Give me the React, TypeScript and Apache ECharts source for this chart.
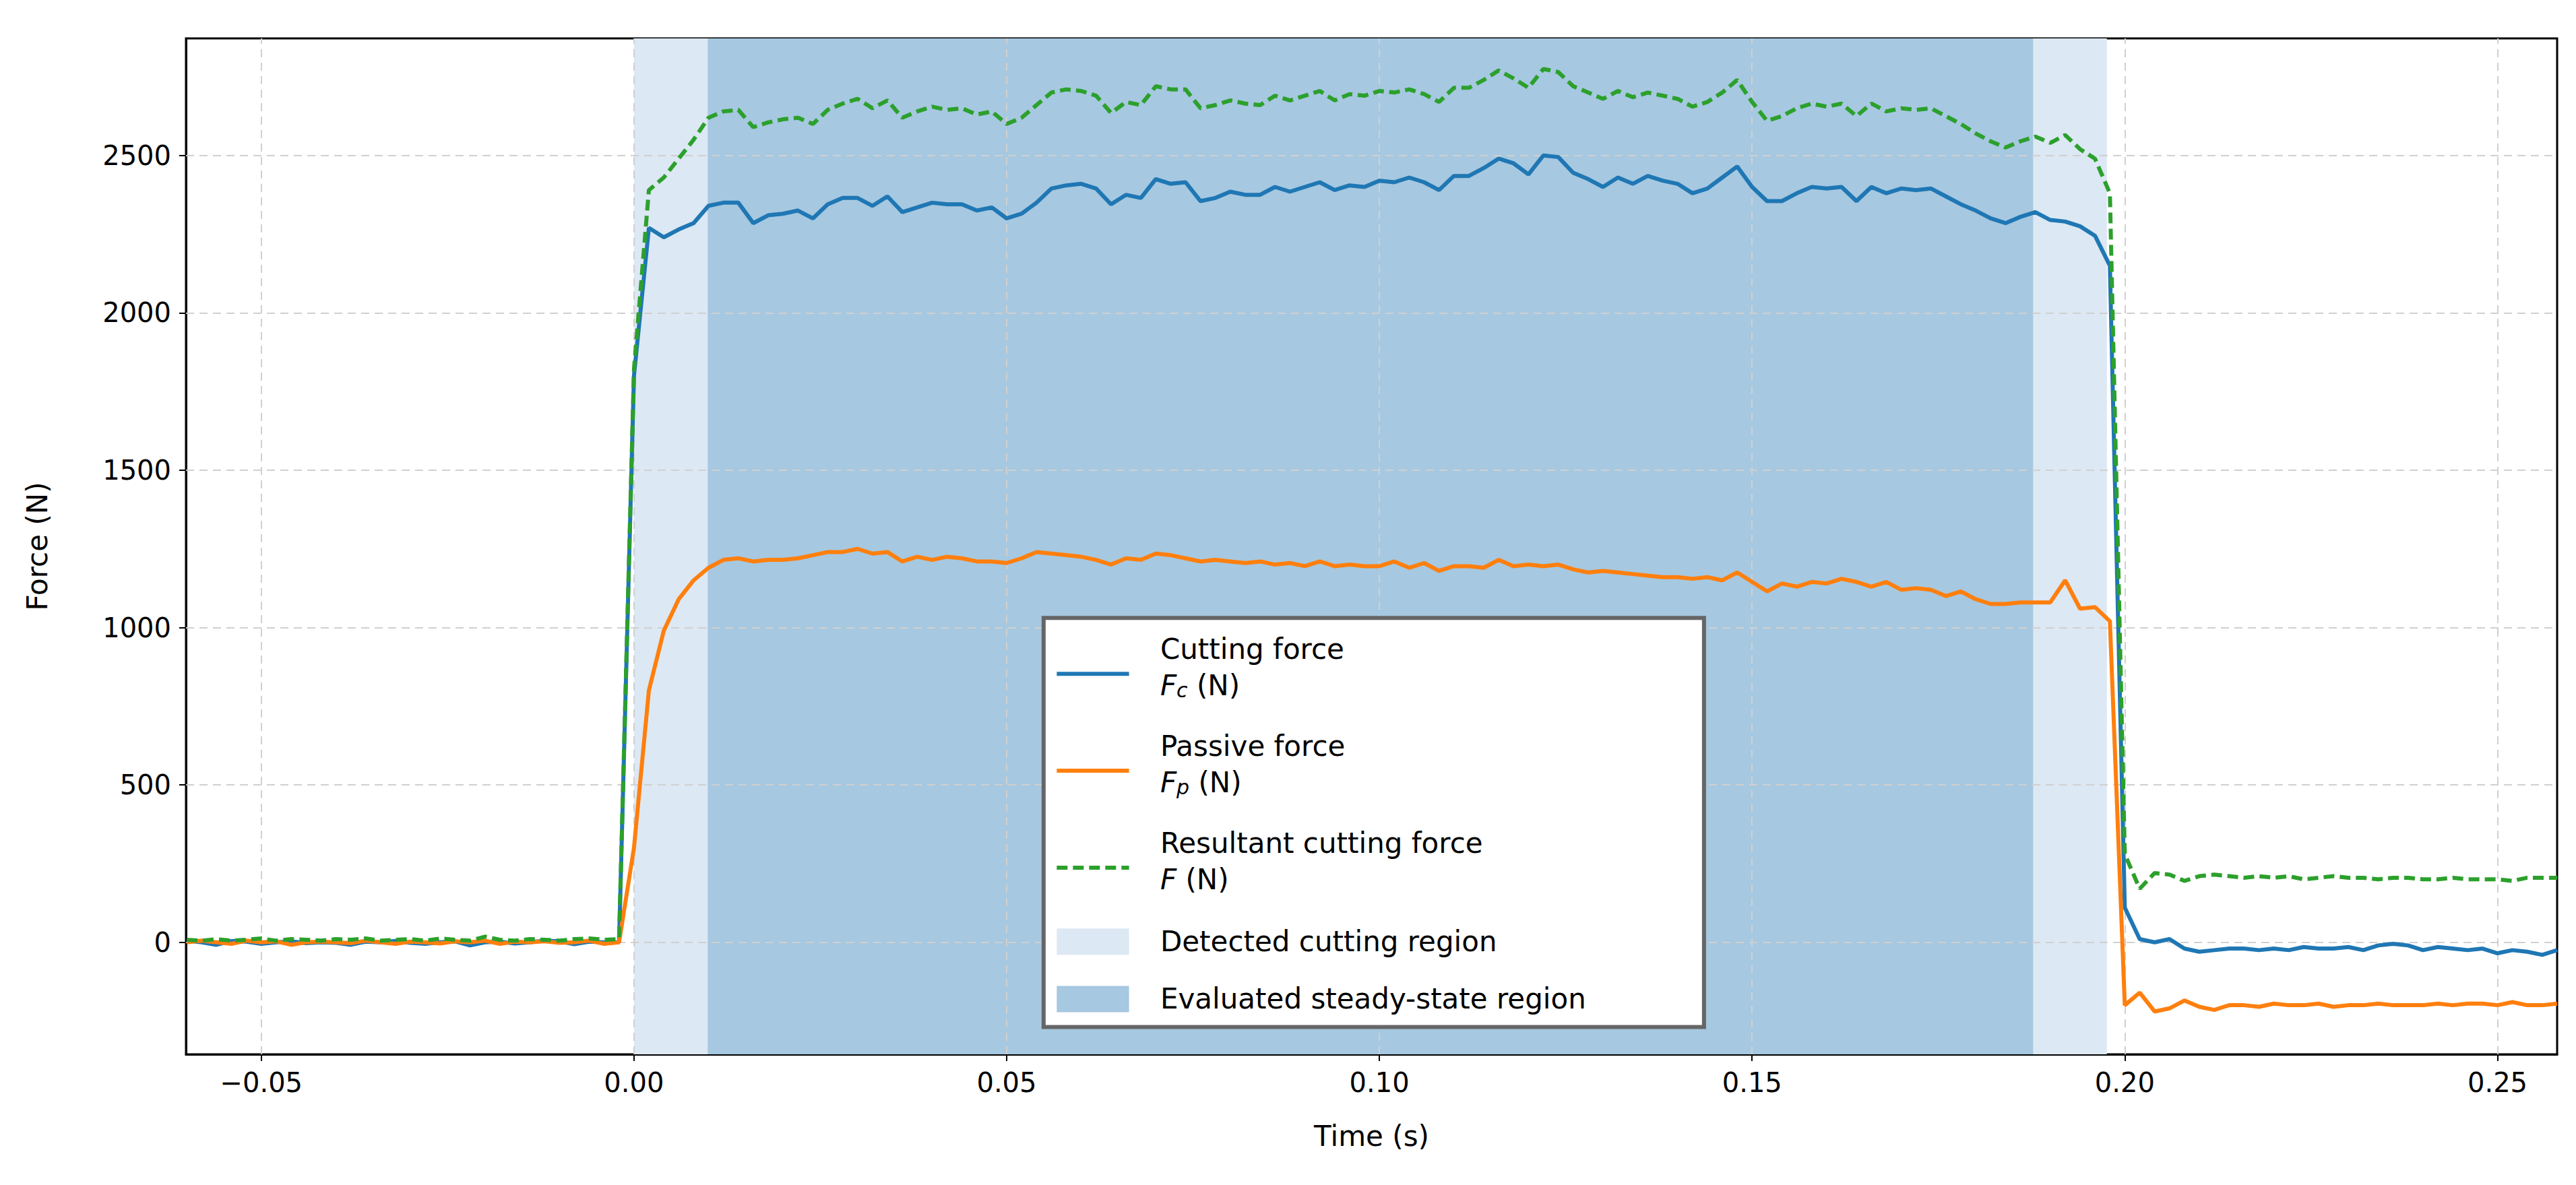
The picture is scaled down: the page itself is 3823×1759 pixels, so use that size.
import { useEffect, useRef } from "react";
import * as echarts from "echarts";

const STEP = 0.002;
const T0 = -0.06;
// sampled every 2 ms from -0.060 s to 0.258 s
const FC_PRE = [5, 0, -8, 4, 2, -5, 0, 3, -3, 0, -2, -8, 2, 0, 4, -2, -5, 0, 3, -10, 0, 2, -4, 0, 5, 3, -6, 2, 0, 0];
const FC_CUT = [
  1800, 2270, 2240, 2265, 2285, 2340, 2350, 2350, 2285, 2310, 2315, 2325, 2300, 2345, 2365, 2365, 2340, 2370, 2320, 2335,
  2350, 2345, 2345, 2325, 2335, 2300, 2315, 2350, 2395, 2405, 2410, 2395, 2345, 2375, 2365, 2425, 2410, 2415, 2355, 2365,
  2385, 2375, 2375, 2400, 2385, 2400, 2415, 2390, 2405, 2400, 2420, 2415, 2430, 2415, 2390, 2435, 2435, 2460, 2490, 2475,
  2440, 2500, 2495, 2445, 2425, 2400, 2430, 2410, 2435, 2420, 2410, 2380, 2395, 2430, 2465, 2400, 2355, 2355, 2380, 2400,
  2395, 2400, 2355, 2400, 2380, 2395, 2390, 2395, 2370, 2345, 2325, 2300, 2285, 2305, 2320, 2295, 2290, 2275, 2245, 2150, 110,
];
const FC_POST = [10, 0, 10, -20, -30, -25, -20, -20, -25, -20, -25, -15, -20, -20, -15, -25, -10, -5, -10, -25, -15, -20, -25, -20, -35, -25, -30, -40, -25];

const FP_PRE = [0, 5, 0, -5, 5, 0, 3, -8, 0, 2, 0, -3, 5, 0, -5, 2, 0, -4, 3, 0, 5, -5, 2, 0, 3, -2, 0, 5, -5, 0];
const FP_CUT = [
  300, 800, 990, 1090, 1150, 1190, 1215, 1220, 1210, 1215, 1215, 1220, 1230, 1240, 1240, 1250, 1235, 1240, 1210, 1225,
  1215, 1225, 1220, 1210, 1210, 1205, 1220, 1240, 1235, 1230, 1225, 1215, 1200, 1220, 1215, 1235, 1230, 1220, 1210, 1215,
  1210, 1205, 1210, 1200, 1205, 1195, 1210, 1195, 1200, 1195, 1195, 1210, 1190, 1205, 1180, 1195, 1195, 1190, 1215, 1195,
  1200, 1195, 1200, 1185, 1175, 1180, 1175, 1170, 1165, 1160, 1160, 1155, 1160, 1150, 1175, 1145, 1115, 1140, 1130, 1145,
  1140, 1155, 1145, 1130, 1145, 1120, 1125, 1120, 1100, 1115, 1090, 1075, 1075, 1080, 1080, 1080, 1150, 1060, 1065, 1020, -200,
];
const FP_POST = [-160, -220, -210, -185, -205, -215, -200, -200, -205, -195, -200, -200, -195, -205, -200, -200, -195, -200, -200, -200, -195, -200, -195, -195, -200, -190, -200, -200, -195];

const F_PRE = [8, 5, 10, 5, 8, 12, 5, 10, 8, 5, 10, 8, 12, 5, 8, 10, 5, 12, 8, 5, 18, 8, 5, 10, 8, 5, 10, 12, 8, 10];
const F_CUT = [
  1820, 2390, 2430, 2490, 2550, 2620, 2640, 2645, 2590, 2605, 2615, 2620, 2600, 2645, 2665, 2680, 2650, 2675, 2620, 2640,
  2655, 2645, 2650, 2630, 2640, 2600, 2620, 2660, 2700, 2710, 2705, 2690, 2635, 2670, 2660, 2720, 2710, 2710, 2650, 2660,
  2675, 2665, 2660, 2690, 2675, 2690, 2705, 2675, 2695, 2690, 2705, 2700, 2710, 2695, 2670, 2715, 2715, 2740, 2770, 2745,
  2715, 2775, 2765, 2720, 2700, 2680, 2705, 2685, 2700, 2690, 2680, 2655, 2670, 2700, 2740, 2670, 2610, 2625, 2650, 2665,
  2655, 2665, 2625, 2665, 2640, 2650, 2645, 2650, 2625, 2600, 2570, 2545, 2525, 2545, 2560, 2540, 2565, 2520, 2490, 2380, 280,
];
const F_POST = [170, 220, 215, 195, 210, 215, 210, 205, 210, 205, 210, 200, 205, 210, 205, 205, 200, 205, 205, 200, 200, 205, 200, 200, 200, 195, 205, 205, 205];

const X_TICKS = [-0.05, 0, 0.05, 0.1, 0.15, 0.2, 0.25];
const Y_TICKS = [0, 500, 1000, 1500, 2000, 2500];
const DETECTED = [0, 0.1976];
const STEADY = [0.0099, 0.1877];

const toPairs = (vals: number[]) => vals.map((v, i) => [+(T0 + i * STEP).toFixed(4), v]);
const FC = toPairs([...FC_PRE, ...FC_CUT, ...FC_POST]);
const FP = toPairs([...FP_PRE, ...FP_CUT, ...FP_POST]);
const FR = toPairs([...F_PRE, ...F_CUT, ...F_POST]);

const BLUE = "#1f77b4";
const ORANGE = "#ff7f0e";
const GREEN = "#2ca02c";
const FONT = "DejaVu Sans";

const k = 2.438;
const LX = 632 * k, LY = 373 * k;
const legendRows = [
  { y: 407, kind: "line", color: BLUE, dash: false, t1: "Cutting force", t2: "{i|F}{s|c} (N)" },
  { y: 466, kind: "line", color: ORANGE, dash: false, t1: "Passive force", t2: "{i|F}{s|p} (N)" },
  { y: 525, kind: "line", color: GREEN, dash: true, t1: "Resultant cutting force", t2: "{i|F} (N)" },
  { y: 570, kind: "rect", color: "#dce8f3", t1: "Detected cutting region" },
  { y: 605, kind: "rect", color: "#a6c8e0", t1: "Evaluated steady-state region" },
];

export default function App() {
  const ref = useRef<HTMLDivElement>(null);
  useEffect(() => {
    if (!ref.current) return;
    const chart = echarts.init(ref.current, null, { renderer: "svg" });
    const graphics: any[] = [
      { type: "rect", shape: { x: LX, y: LY, width: 402 * k, height: 249 * k }, style: { fill: "#fff", stroke: "#666", lineWidth: 6 }, z: 100 },
    ];
    legendRows.forEach((r) => {
      const y = r.y * k;
      if (r.kind === "line") {
        graphics.push({ type: "line", shape: { x1: 640 * k, y1: y, x2: 684 * k, y2: y }, style: { stroke: r.color, lineWidth: 6, lineDash: r.dash ? [16, 8] : null }, z: 101 });
        graphics.push({ type: "text", x: 703 * k, y: y - 15 * k, style: { text: r.t1, font: `42px ${FONT}`, fill: "#000", verticalAlign: "middle" }, z: 101 });
        graphics.push({
          type: "text", x: 703 * k, y: y + 7 * k,
          style: {
            text: r.t2, font: `42px ${FONT}`, fill: "#000", verticalAlign: "middle",
            rich: {
              i: { fontStyle: "italic", fontSize: 42, fontFamily: FONT },
              s: { fontStyle: "italic", fontSize: 30, fontFamily: FONT, padding: [14, 0, 0, 0] },
            },
          },
          z: 101,
        });
      } else {
        graphics.push({ type: "rect", shape: { x: 640 * k, y: y - 8 * k, width: 44 * k, height: 16 * k }, style: { fill: r.color }, z: 101 });
        graphics.push({ type: "text", x: 703 * k, y, style: { text: r.t1, font: `42px ${FONT}`, fill: "#000", verticalAlign: "middle" }, z: 101 });
      }
    });

    const gridStyle = { color: "#d0d0d0", type: [12, 8] as any, width: 2 };
    chart.setOption({
      animation: false,
      backgroundColor: "#fff",
      textStyle: { fontFamily: FONT },
      grid: { left: 268, right: 20, top: 49, bottom: 186, show: true, borderColor: "#000", borderWidth: 3, backgroundColor: "transparent" },
      xAxis: {
        type: "value", min: -0.0601, max: 0.258,
        name: "Time (s)", nameLocation: "middle", nameGap: 100, nameTextStyle: { fontSize: 42, color: "#000" },
        axisLine: { show: true, onZero: false, lineStyle: { color: "#000", width: 3 } },
        axisTick: { show: true, customValues: X_TICKS, length: 10, lineStyle: { color: "#000", width: 2 } },
        axisLabel: { customValues: X_TICKS, fontSize: 40, color: "#000", margin: 22, formatter: (v: number) => (v < 0 ? "\u2212" : "") + Math.abs(v).toFixed(2) },
        splitLine: { show: false },
      },
      yAxis: {
        type: "value", min: -356, max: 2872,
        name: "Force (N)", nameLocation: "middle", nameGap: 200, nameRotate: 90, nameTextStyle: { fontSize: 42, color: "#000" },
        axisLine: { show: true, onZero: false, lineStyle: { color: "#000", width: 3 } },
        axisTick: { show: true, customValues: Y_TICKS, length: 10, lineStyle: { color: "#000", width: 2 } },
        axisLabel: { customValues: Y_TICKS, fontSize: 40, color: "#000", margin: 22, formatter: (v: number) => String(v) },
        splitLine: { show: false },
      },
      series: [
        {
          type: "line", data: [], silent: true,
          markArea: {
            silent: true,
            data: [
              [{ xAxis: DETECTED[0], itemStyle: { color: "#dce8f3" } }, { xAxis: DETECTED[1] }],
              [{ xAxis: STEADY[0], itemStyle: { color: "#a6c8e0" } }, { xAxis: STEADY[1] }],
            ],
          },
          markLine: {
            silent: true, symbol: "none", label: { show: false },
            lineStyle: gridStyle,
            data: [...X_TICKS.map((x) => ({ xAxis: x })), ...Y_TICKS.map((y) => ({ yAxis: y }))],
          },
        },
        { type: "line", data: FC, showSymbol: false, lineStyle: { color: BLUE, width: 6 }, itemStyle: { color: BLUE }, z: 5 },
        { type: "line", data: FP, showSymbol: false, lineStyle: { color: ORANGE, width: 6 }, itemStyle: { color: ORANGE }, z: 5 },
        { type: "line", data: FR, showSymbol: false, lineStyle: { color: GREEN, width: 6, type: [16, 8] }, itemStyle: { color: GREEN }, z: 6 },
      ],
      graphic: graphics,
    });
    return () => chart.dispose();
  }, []);
  return <div ref={ref} style={{ width: 3807, height: 1743 }} />;
}
